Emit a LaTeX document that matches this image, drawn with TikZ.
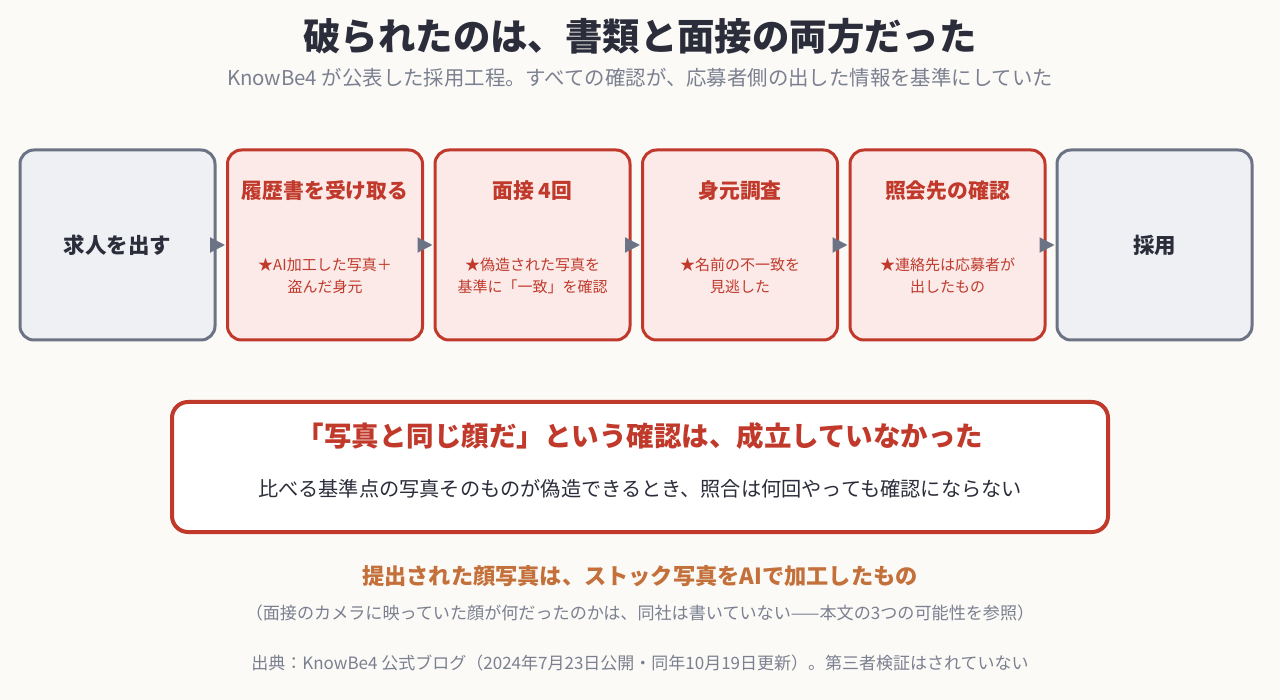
\documentclass[tikz,border=0pt]{standalone}
\usepackage{fontspec}
\setmainfont{Noto Sans CJK JP}
\usetikzlibrary{arrows.meta}
\definecolor{bg}{HTML}{FBFAF7}
\definecolor{ink}{HTML}{2B2D3A}
\definecolor{muted}{HTML}{7B8090}
\definecolor{redS}{HTML}{C0392B}
\definecolor{redF}{HTML}{FBEAE8}
\definecolor{grayS}{HTML}{6B7385}
\definecolor{grayF}{HTML}{EFF0F4}
\definecolor{orng}{HTML}{C4703A}
\newcommand{\fs}[1]{\fontsize{#1}{#1}\selectfont}
\tikzset{
  gbox/.style={draw=grayS, fill=grayF, line width=3pt, rounded corners=14pt, minimum width=195pt, minimum height=190pt, inner sep=0pt},
  rbox/.style={draw=redS, fill=redF, line width=3pt, rounded corners=14pt, minimum width=195pt, minimum height=190pt, inner sep=0pt},
  head/.style={text=redS, font=\fs{20.8}\bfseries, inner sep=0pt},
  gtxt/.style={text=ink, font=\fs{21.5}\bfseries, inner sep=0pt},
  sub/.style={text=redS, font=\fs{15}, align=center, inner sep=0pt},
  flow/.style={draw=grayS, line width=2pt, -{Triangle[length=15pt,width=15pt]}, fill=grayS}
}
\begin{document}
\begin{tikzpicture}[x=1pt,y=-1pt]
\fill[bg] (0,0) rectangle (1280,700);
\useasboundingbox (0,0) rectangle (1280,700);
\node[text=ink, font=\fs{37.4}\bfseries] (title) at (640,36) {破られたのは、書類と面接の両方だった};
\node[text=muted, font=\fs{20.4}] (subtitle) at (640,78) {KnowBe4 が公表した採用工程。すべての確認が、応募者側の出した情報を基準にしていた};

\node[gbox] (b1) at (117.5,245) {};
\node[rbox] (b2) at (325,245) {};
\node[rbox] (b3) at (532.5,245) {};
\node[rbox] (b4) at (740,245) {};
\node[rbox] (b5) at (947.5,245) {};
\node[gbox] (b6) at (1154.5,245) {};

\node[gtxt] (t1) at (b1.center) {求人を出す};
\node[gtxt] (t6) at (b6.center) {採用};
\node[head] (h2) at (325,191) {履歴書を受け取る};
\node[head] (h3) at (532.5,191) {面接 4回};
\node[head] (h4) at (740,191) {身元調査};
\node[head] (h5) at (947.5,191) {照会先の確認};
\node[sub] (s2) at (325,276) {★AI加工した写真＋\\[7pt]盗んだ身元};
\node[sub] (s3) at (532.5,276) {★偽造された写真を\\[7pt]基準に「一致」を確認};
\node[sub] (s4) at (740,276) {★名前の不一致を\\[7pt]見逃した};
\node[sub] (s5) at (947.5,276) {★連絡先は応募者が\\[7pt]出したもの};

\draw[flow] ([xshift=-6pt]b1.east) -- ([xshift=-1pt]b2.west);
\draw[flow] ([xshift=-6pt]b2.east) -- ([xshift=-1pt]b3.west);
\draw[flow] ([xshift=-6pt]b3.east) -- ([xshift=-1pt]b4.west);
\draw[flow] ([xshift=-6pt]b4.east) -- ([xshift=-1pt]b5.west);
\draw[flow] ([xshift=-6pt]b5.east) -- ([xshift=-1pt]b6.west);

\node[draw=redS, fill=white, line width=4pt, rounded corners=16pt, minimum width=936pt, minimum height=130pt] (panel) at (640,467) {};
\node[text=redS, font=\fs{27.5}\bfseries] (ptitle) at (640,436) {「写真と同じ顔だ」という確認は、成立していなかった};
\node[text=ink, font=\fs{20.2}] (ptext) at (640,489) {比べる基準点の写真そのものが偽造できるとき、照合は何回やっても確認にならない};

\node[text=orng, font=\fs{22.2}\bfseries] (fact) at (640,576) {提出された顔写真は、ストック写真をAIで加工したもの};
\node[text=muted, font=\fs{17.1}] (note) at (640,613) {（面接のカメラに映っていた顔が何だったのかは、同社は書いていない——本文の3つの可能性を参照）};
\node[text=muted, font=\fs{17}] (src) at (640,663) {出典：KnowBe4 公式ブログ（2024年7月23日公開・同年10月19日更新）。第三者検証はされていない};
\end{tikzpicture}
\end{document}
